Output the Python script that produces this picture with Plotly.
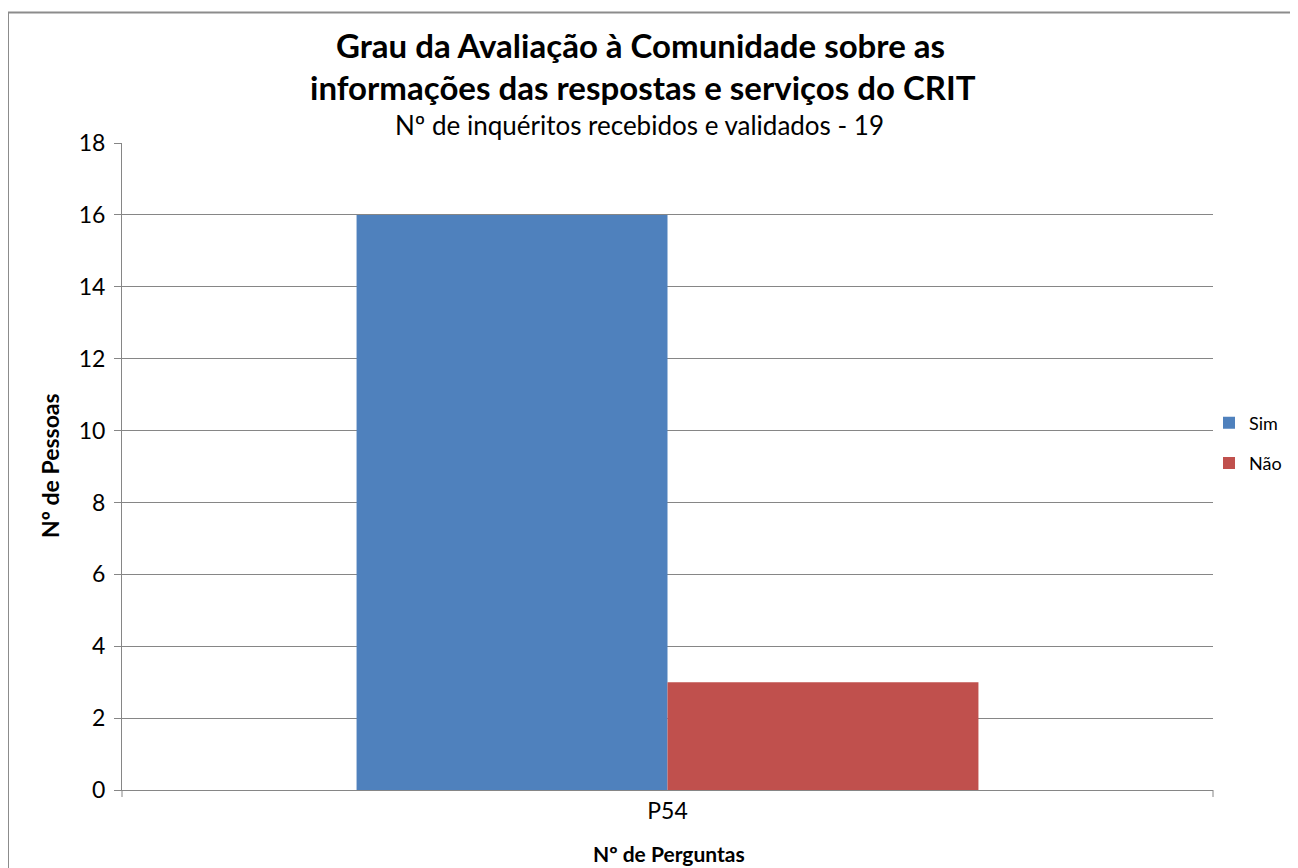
import plotly.graph_objects as go

categories = ["P54"]
series_names = ["Sim", "Não"]
sim_values = [16]
nao_values = [3]
y_ticks = [0, 2, 4, 6, 8, 10, 12, 14, 16, 18]
colors = ["#4F81BD", "#C0504D"]

FONT = "Lato, 'Open Sans', sans-serif"

# page is rendered with an 8px body margin: figure origin at page (8, 8)
W, H = 1290, 860
L, R, T, B = 114, 85, 135, 78
PW = W - L - R   # 1091
PH = H - T - B   # 647


def px(page_x):
    return (page_x - 8 - L) / PW


def py(page_y):
    return 1 - (page_y - 8 - T) / PH


fig = go.Figure()
fig.add_trace(go.Bar(x=categories, y=sim_values, name=series_names[0],
                     marker=dict(color=colors[0], line=dict(width=0)),
                     legendgroup="a"))
fig.add_trace(go.Bar(x=categories, y=nao_values, name=series_names[1],
                     marker=dict(color=colors[1], line=dict(width=0)),
                     legendgroup="b"))

fig.update_layout(
    width=W, height=H,
    margin=dict(l=L, r=R, t=T, b=B, autoexpand=False),
    paper_bgcolor="white", plot_bgcolor="white",
    barmode="group", bargap=0.43, bargroupgap=0,
    font=dict(family=FONT, color="#000000"),
    showlegend=True,
    legend=dict(x=px(1209), xanchor="left", y=py(443), yanchor="middle",
                font=dict(size=18, family=FONT), tracegroupgap=14,
                itemwidth=30, bgcolor="rgba(0,0,0,0)", borderwidth=0),
    xaxis=dict(range=[-0.5, 0.5], showline=True, linecolor="#868686", linewidth=1,
               ticks="", tickfont=dict(size=23, family=FONT), showgrid=False,
               zeroline=False),
    yaxis=dict(range=[0, 18], tickvals=y_ticks, showline=True, linecolor="#868686",
               linewidth=1, ticks="outside", ticklen=7, tickcolor="#868686",
               tickfont=dict(size=23, family=FONT), showgrid=True,
               gridcolor="#868686", gridwidth=1, zeroline=False, ticklabelstandoff=4),
    shapes=[
        dict(type="rect", xref="paper", yref="paper", x0=px(8), x1=px(1400),
             y0=py(1000), y1=py(12.5),
             line=dict(color="#8c8c8c", width=2), fillcolor="rgba(0,0,0,0)", layer="below"),
        dict(type="line", xref="paper", yref="paper", x0=0, x1=0, y0=0, y1=py(797),
             line=dict(color="#868686", width=1)),
        dict(type="line", xref="paper", yref="paper", x0=1, x1=1, y0=0, y1=py(797),
             line=dict(color="#868686", width=1)),
    ],
    annotations=[
        dict(text="<b>Grau da Avaliação à Comunidade sobre as</b>", xref="paper", yref="paper",
             x=px(640), y=py(45), showarrow=False, font=dict(size=33, family=FONT),
             xanchor="center", yanchor="middle"),
        dict(text="<b>informações das respostas e serviços do CRIT</b>", xref="paper", yref="paper",
             x=px(643), y=py(87), showarrow=False, font=dict(size=33, family=FONT),
             xanchor="center", yanchor="middle"),
        dict(text="Nº de inquéritos recebidos e validados - 19", xref="paper", yref="paper",
             x=px(639), y=py(125), showarrow=False, font=dict(size=26, family=FONT),
             xanchor="center", yanchor="middle"),
        dict(text="<b>Nº de Pessoas</b>", xref="paper", yref="paper",
             x=px(50), y=py(466), showarrow=False, textangle=-90,
             font=dict(size=23, family=FONT), xanchor="center", yanchor="middle"),
        dict(text="<b>Nº de Perguntas</b>", xref="paper", yref="paper",
             x=px(669), y=py(854), showarrow=False,
             font=dict(size=21, family=FONT), xanchor="center", yanchor="middle"),
    ],
)

fig.write_html("out.html")
